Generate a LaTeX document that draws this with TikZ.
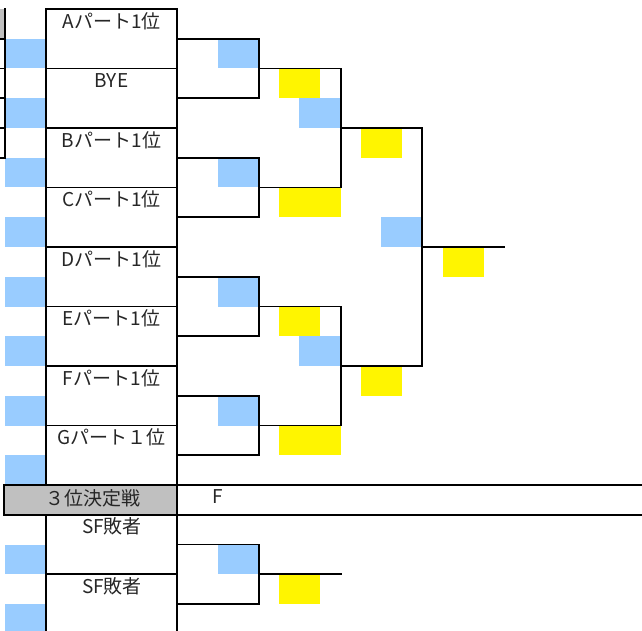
\documentclass[tikz,border=0pt]{standalone}
\usepackage{fontspec}
\setmainfont{Noto Sans CJK JP}
\definecolor{cellblue}{HTML}{99CCFF}
\definecolor{cellyellow}{HTML}{FFF500}
\definecolor{cellgray}{HTML}{C0C0C0}
\begin{document}
\begin{tikzpicture}[x=1pt,y=-1pt,
  grid/.style={line width=1.7pt, line cap=rect},
  lbl/.style={font=\fontsize{19}{22}\selectfont, inner sep=0pt, text=black!85},
  bluecell/.style={fill=cellblue},
  yelcell/.style={fill=cellyellow}]
\useasboundingbox (0,0) rectangle (642,631);
% ---- blue cells, left column
\foreach \a/\b in {39/68.5, 98/128, 158/187.5, 217/247, 277/306.5, 336/366, 396/425.5, 455/485, 544.5/574, 604/631}
  \fill[bluecell] (5,\a) rectangle (46,\b);
% ---- blue cells, round 1
\foreach \a/\b in {39/68.5, 158/187.5, 277/306.5, 396/425.5, 544.5/574}
  \fill[bluecell] (218,\a) rectangle (259,\b);
% ---- round 2 cells
\foreach \a/\b in {68.5/98, 306.5/336, 574/604}
  \fill[yelcell] (279,\a) rectangle (320,\b);
\foreach \a/\b in {98/128, 336/366}
  \fill[bluecell] (299,\a) rectangle (341,\b);
\foreach \a/\b in {187.5/217, 425.5/455}
  \fill[yelcell] (279,\a) rectangle (341,\b);
% ---- round 3 cells
\foreach \a/\b in {128/158, 366/396}
  \fill[yelcell] (361,\a) rectangle (402,\b);
\fill[bluecell] (381,217) rectangle (422,247);
\fill[yelcell] (443,247) rectangle (484,277);
% ---- far-left gray cell
\fill[cellgray] (0,9) rectangle (5,38);
% ---- 3rd place header
\fill[cellgray] (4,485) rectangle (177,515);

% ---- far-left partial column
\draw[grid] (5,9) -- (5,158);
\foreach \y in {39,68.5,98,128,158} \draw[grid] (0,\y) -- (5,\y);

% ---- entry boxes
\draw[grid] (46,9) -- (46,485);
\draw[grid] (46,515) -- (46,631);
\draw[grid] (177,9) -- (177,631);
\foreach \y in {9,68.5,128,187.5,247,306.5,366,425.5,574}
  \draw[grid] (46,\y) -- (177,\y);
\draw[grid] (4,485) -- (642,485);
\draw[grid] (4,515) -- (642,515);
\draw[grid] (4,485) -- (4,515);

% ---- round 1 brackets
\foreach \t/\m/\b in {39/68.5/98, 158/187.5/217, 277/306.5/336, 396/425.5/455, 544.5/574/604}
  \draw[grid] (177,\t) -- (259,\t) -- (259,\b) -- (177,\b) (259,\m) -- (341,\m);
% ---- round 2 brackets
\draw[grid] (341,68.5) -- (341,187.5) (341,128) -- (422,128);
\draw[grid] (341,306.5) -- (341,425.5) (341,366) -- (422,366);
% ---- round 3
\draw[grid] (422,128) -- (422,366) (422,247) -- (504,247);

% ---- labels
\node[lbl] (tA) at (111.5,21) {Aパート1位};
\node[lbl] (tBYE) at (111.5,80.5) {BYE};
\node[lbl] (tB) at (111.5,140) {Bパート1位};
\node[lbl] (tC) at (111.5,199.5) {Cパート1位};
\node[lbl] (tD) at (111.5,259) {Dパート1位};
\node[lbl] (tE) at (111.5,318.5) {Eパート1位};
\node[lbl] (tF) at (111.5,378) {Fパート1位};
\node[lbl] (tG) at (111.5,437.5) {Gパート１位};
\node[lbl] (t3) at (93,498) {３位決定戦};
\node[lbl] (tFin) at (218,496.5) {F};
\node[lbl] (tSF1) at (112,526.5) {SF敗者};
\node[lbl] (tSF2) at (112,586) {SF敗者};
\end{tikzpicture}
\end{document}
